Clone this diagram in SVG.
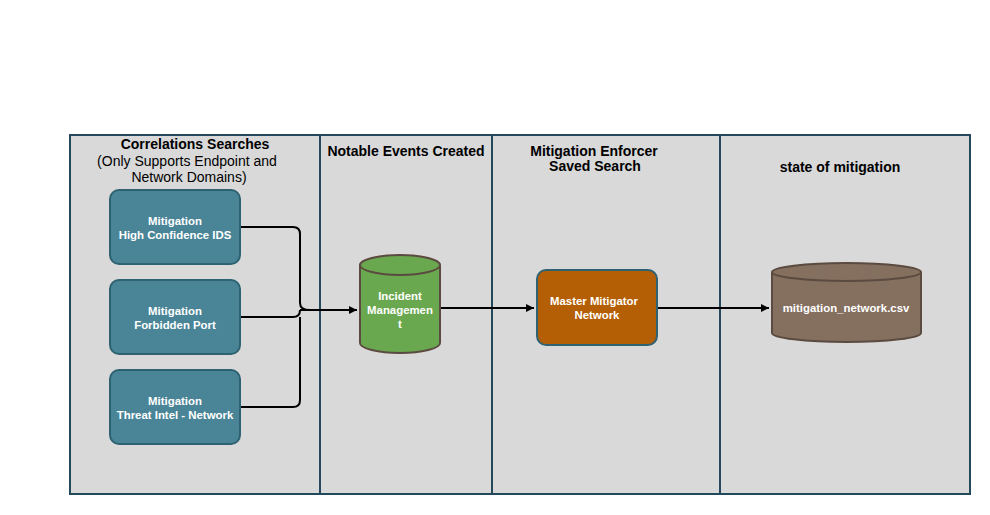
<svg xmlns="http://www.w3.org/2000/svg" width="990" height="515" viewBox="0 0 990 515">
<defs>
<marker id="arr" markerWidth="10" markerHeight="10" refX="9" refY="5" orient="auto" markerUnits="userSpaceOnUse"><path d="M1,1 L9,5 L1,9 Z" fill="#000"/></marker>
<style>
.lane{fill:#d9d9d9;stroke:#23495a;stroke-width:2}
.hdr{font-family:"Liberation Sans",Arial,sans-serif;font-size:14px;font-weight:bold;fill:#000;text-anchor:middle}
.sub{font-family:"Liberation Sans",Arial,sans-serif;font-size:14px;fill:#000;text-anchor:middle}
.box{fill:#4a8597;stroke:#2e6272;stroke-width:2}
.lbl{font-family:"Liberation Sans",Arial,sans-serif;font-size:11.4px;font-weight:bold;fill:#fff;text-anchor:middle}
.conn{fill:none;stroke:#000;stroke-width:2}
</style>
</defs>
<rect width="990" height="515" fill="#fff"/>
<g id="lanes">
<rect class="lane" x="70" y="135" width="250" height="359"/>
<rect class="lane" x="320" y="135" width="172" height="359"/>
<rect class="lane" x="492" y="135" width="228" height="359"/>
<rect class="lane" x="720" y="135" width="250" height="359"/>
<text class="hdr" x="195" y="149">Correlations Searches</text>
<text class="sub" x="187" y="166">(Only Supports Endpoint and</text>
<text class="sub" x="189" y="182">Network Domains)</text>
<text class="hdr" x="406" y="156">Notable Events Created</text>
<text class="hdr" x="594" y="156">Mitigation Enforcer</text>
<text class="hdr" x="595" y="171">Saved Search</text>
<text class="hdr" x="840" y="172">state of mitigation</text>
</g>
<g id="connectors">
<path class="conn" d="M240,227 H293 Q300,227 300,234 V303 Q300,310 310,310"/>
<path class="conn" d="M240,317 H293 Q300,317 300,310"/>
<path class="conn" d="M240,407 H293 Q300,407 300,400 V317"/>
<path class="conn" d="M300,310 H357" marker-end="url(#arr)"/>
<path class="conn" d="M440,308 H534" stroke-width="1.5" marker-end="url(#arr)"/>
<path class="conn" d="M657,308 H769" stroke-width="1.5" marker-end="url(#arr)"/>
</g>
<g id="n1">
<rect class="box" x="110" y="190" width="130" height="74" rx="9"/>
<text class="lbl" x="175" y="225">Mitigation</text>
<text class="lbl" x="175" y="239">High Confidence IDS</text>
</g>
<g id="n2">
<rect class="box" x="110" y="280" width="130" height="74" rx="9"/>
<text class="lbl" x="175" y="315">Mitigation</text>
<text class="lbl" x="175" y="329">Forbidden Port</text>
</g>
<g id="n3">
<rect class="box" x="110" y="370" width="130" height="74" rx="9"/>
<text class="lbl" x="175" y="405">Mitigation</text>
<text class="lbl" x="175" y="419">Threat Intel - Network</text>
</g>
<g id="incident">
<path d="M360,265 A40,10 0 0 1 440,265 V343 A40,10 0 0 1 360,343 Z" fill="#6aa84f" stroke="#5b4a3f" stroke-width="2"/>
<path d="M360,265 A40,10 0 0 0 440,265" fill="none" stroke="#5b4a3f" stroke-width="2"/>
<text class="lbl" x="400" y="300">Incident</text>
<text class="lbl" x="400" y="314">Managemen</text>
<text class="lbl" x="400" y="328">t</text>
</g>
<g id="master">
<rect x="537" y="270" width="120" height="75" rx="9" fill="#b45f06" stroke="#2e6272" stroke-width="2"/>
<text class="lbl" x="594" y="305">Master Mitigator</text>
<text class="lbl" x="597" y="319">Network</text>
</g>
<g id="csv">
<path d="M772,272 A74.5,9 0 0 1 921,272 V333 A74.5,9 0 0 1 772,333 Z" fill="#85705f" stroke="#5b4a3f" stroke-width="2"/>
<path d="M772,272 A74.5,9 0 0 0 921,272" fill="none" stroke="#5b4a3f" stroke-width="2"/>
<text class="lbl" x="846" y="312">mitigation_network.csv</text>
</g>
</svg>
